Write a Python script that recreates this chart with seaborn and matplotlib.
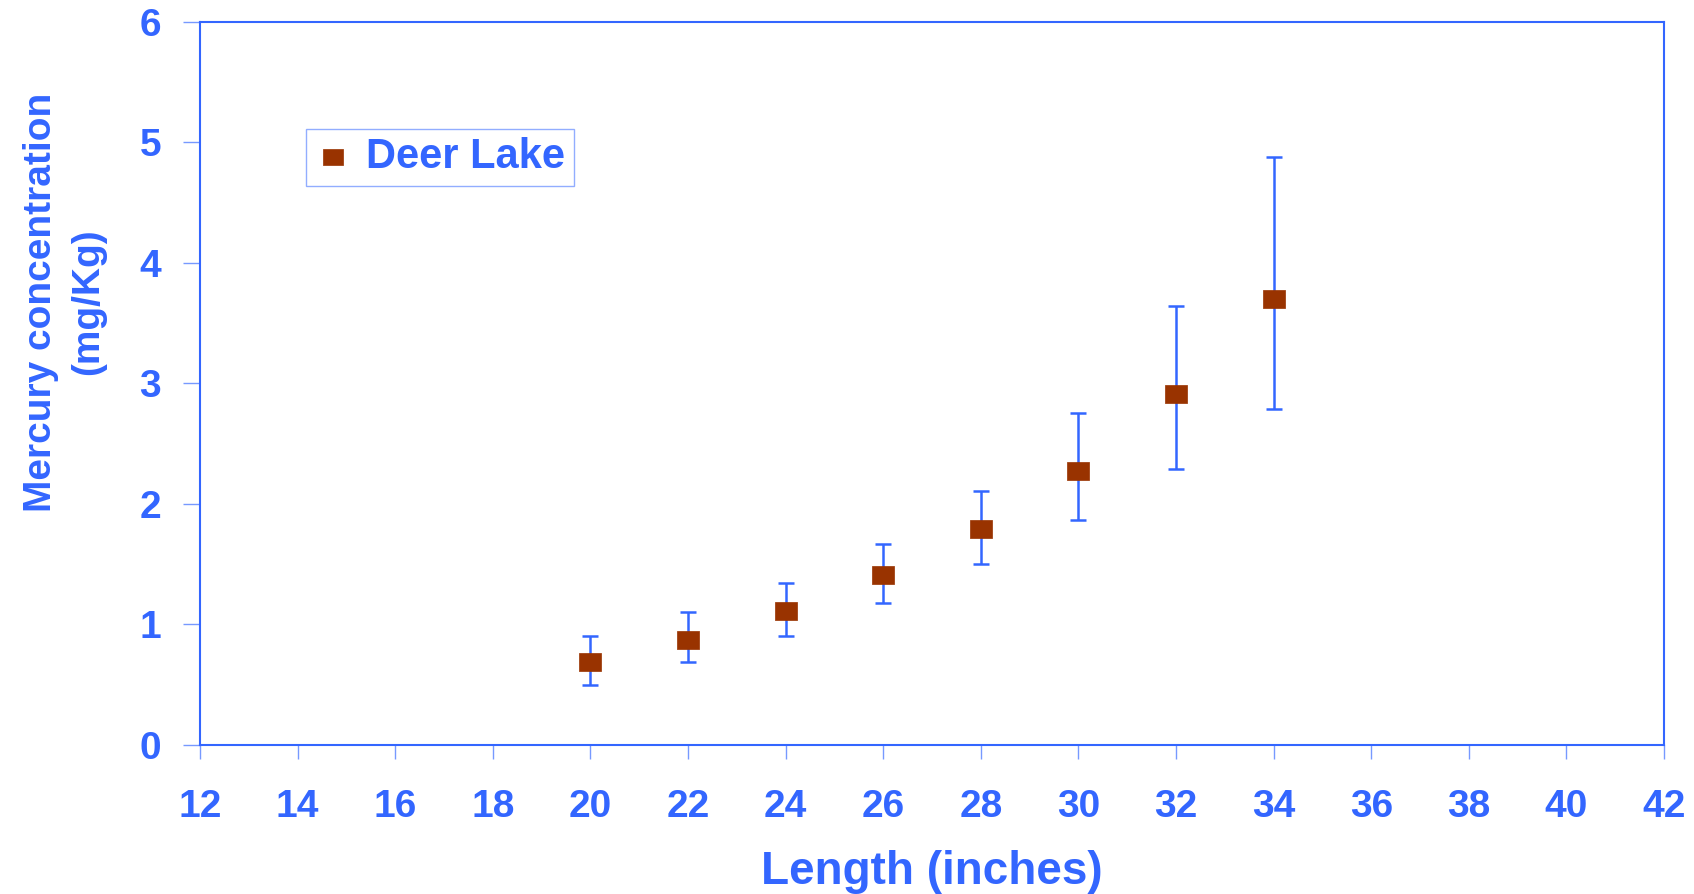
import matplotlib
matplotlib.use("Agg")
import matplotlib.pyplot as plt
import numpy as np
import pandas as pd
import seaborn as sns

sns.set_theme(style="white")
plt.rcParams["font.family"] = ["Liberation Sans", "DejaVu Sans"]
plt.rcParams["font.weight"] = "bold"

BLUE = "#3366FF"
BROWN = "#993300"

# data
length_in = [20, 22, 24, 26, 28, 30, 32, 34]
mercury = [0.69, 0.87, 1.11, 1.41, 1.79, 2.27, 2.91, 3.70]
err_low = [0.50, 0.69, 0.90, 1.18, 1.50, 1.87, 2.29, 2.79]
err_high = [0.90, 1.10, 1.34, 1.67, 2.11, 2.75, 3.64, 4.88]

x_ticks = list(range(12, 43, 2))
y_ticks = [0, 1, 2, 3, 4, 5, 6]

df = pd.DataFrame({"Length": length_in, "Hg": mercury})
yerr = np.array([np.array(mercury) - np.array(err_low),
                 np.array(err_high) - np.array(mercury)])

fig = plt.figure(figsize=(16.94, 8.94), dpi=100)
ax = fig.add_axes([0.1181, 0.1667, 0.9823 - 0.1181, 0.9758 - 0.1667])

ax.errorbar(length_in, mercury, yerr=yerr, fmt="none", ecolor=BLUE,
            elinewidth=1.8, capsize=6, capthick=1.8, zorder=2)

box_marker = [(-1.2, -1), (1.2, -1), (1.2, 1), (-1.2, 1), (-1.2, -1)]
sns.scatterplot(data=df, x="Length", y="Hg", ax=ax, marker=box_marker,
                color=BROWN, s=16 ** 2, edgecolor=BROWN, linewidth=0.5,
                label="Deer Lake", zorder=3)

ax.set_xlim(12, 42)
ax.set_ylim(0, 6)
ax.set_xticks(x_ticks)
ax.set_yticks(y_ticks)

for side in ax.spines.values():
    side.set_color(BLUE)
    side.set_linewidth(1.5)

ax.tick_params(axis="x", direction="out", length=10, width=1, color="#7799FF",
               labelsize=28, labelcolor=BLUE, pad=22, bottom=True)
ax.tick_params(axis="y", direction="out", length=12, width=1, color="#7799FF",
               labelsize=28, labelcolor=BLUE, pad=16, left=True)
for lbl in ax.get_xticklabels() + ax.get_yticklabels():
    lbl.set_fontweight("bold")

ax.set_xlabel("Length (inches)", fontsize=33, fontweight="bold", color=BLUE,
              labelpad=18)
ax.set_ylabel("")
fig.text(0.038, 1 - 302 / 894, "Mercury concentration\n(mg/Kg)", rotation=90,
         ha="center", va="center", multialignment="center", fontsize=28,
         fontweight="bold", color=BLUE, linespacing=1.4)

leg = ax.legend(loc="upper left", bbox_to_anchor=(0.0724, 0.8515),
                frameon=True, fancybox=False, fontsize=30, handletextpad=0.35,
                borderpad=0.2, borderaxespad=0, handlelength=0.9,
                markerscale=0.9)
leg.get_frame().set_edgecolor("#7799FF")
leg.get_frame().set_linewidth(1.0)
for t in leg.get_texts():
    t.set_color(BLUE)
    t.set_fontweight("bold")

fig.savefig("out.png", dpi=100)
